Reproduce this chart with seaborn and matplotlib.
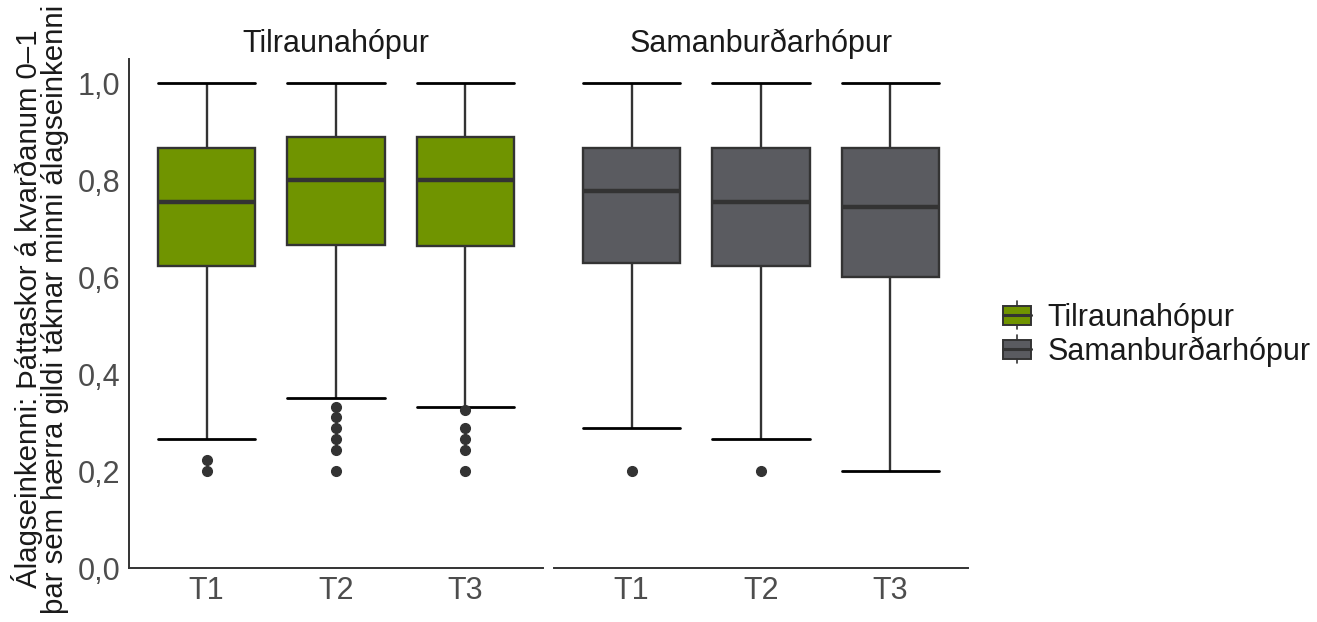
import numpy as np
import pandas as pd
import matplotlib
matplotlib.use("Agg")
import matplotlib.pyplot as plt
import seaborn as sns
from matplotlib.legend_handler import HandlerBase
from matplotlib.patches import Rectangle
from matplotlib.lines import Line2D
from matplotlib.ticker import FuncFormatter

# ---------------- data ----------------
groups = ["Tilraunahópur", "Samanburðarhópur"]
times = ["T1", "T2", "T3"]
group_colors = ["#709400", "#5A5B60"]

whisker_low = [[0.267, 0.350, 0.333], [0.289, 0.267, 0.200]]
q1 = [[0.622, 0.667, 0.665], [0.630, 0.622, 0.600]]
median = [[0.756, 0.800, 0.800], [0.778, 0.756, 0.744]]
q3 = [[0.867, 0.889, 0.889], [0.867, 0.867, 0.867]]
whisker_high = [[1.0, 1.0, 1.0], [1.0, 1.0, 1.0]]
outliers = [
    [[0.200, 0.222], [0.200, 0.244, 0.267, 0.289, 0.311, 0.333], [0.200, 0.244, 0.267, 0.289, 0.325]],
    [[0.200], [0.200], []],
]

y_label = "Álagseinkenni: Þáttaskor á kvarðanum 0–1\nþar sem hærra gildi táknar minni álagseinkenni"


def build_values(lo, a, m, b, hi, outs, m_idx=8):
    """Sorted sample of 4*m_idx+1 values whose quartiles/whiskers equal the given stats."""
    n = 4 * m_idx + 1
    vals = [None] * n
    k = len(outs)
    for i, o in enumerate(sorted(outs)):
        vals[i] = o
    vals[k] = lo
    for i in range(k + 1, m_idx + 1):
        vals[i] = a
    for i in range(m_idx + 1, 2 * m_idx + 1):
        vals[i] = m
    for i in range(2 * m_idx + 1, 4 * m_idx):
        vals[i] = b
    vals[4 * m_idx] = hi
    return vals


rows = []
for gi, g in enumerate(groups):
    for ti, t in enumerate(times):
        for v in build_values(whisker_low[gi][ti], q1[gi][ti], median[gi][ti],
                              q3[gi][ti], whisker_high[gi][ti], outliers[gi][ti]):
            rows.append({"group": g, "time": t, "value": v})
df = pd.DataFrame(rows)

# ---------------- style ----------------
sns.set_style("white")
plt.rcParams["font.family"] = ["Liberation Sans", "DejaVu Sans"]
FS = 22
TXT = "#1A1A1A"
TICK = "#4D4D4D"
LINE = "#333333"

W, H = 1317, 622
fig = plt.figure(figsize=(W / 100, H / 100), dpi=100)

bottom = (H - 568) / H
height = (568 - 59) / H
ax_left = fig.add_axes([129 / W, bottom, (543 - 129) / W, height])
ax_right = fig.add_axes([554 / W, bottom, (968 - 554) / W, height])

for gi, (ax, g) in enumerate(zip([ax_left, ax_right], groups)):
    sub = df[df["group"] == g]
    sns.boxplot(
        data=sub, x="time", y="value", order=times, ax=ax,
        color=group_colors[gi], saturation=1, width=0.75,
        linecolor=LINE, linewidth=1.7,
        flierprops=dict(marker="o", markerfacecolor=LINE, markeredgecolor=LINE, markersize=7),
        medianprops=dict(color=LINE, linewidth=3.2),
        capprops=dict(color="black", linewidth=2.0),
        capwidths=0.75,
    )
    ax.set_xlim(-0.6, 2.6)
    ax.set_ylim(0, 1.05)
    ax.set_xlabel("")
    ax.set_ylabel("")
    ax.set_title(g, fontsize=FS, color=TXT, pad=5)
    for s in ["top", "right"]:
        ax.spines[s].set_visible(False)
    ax.spines["bottom"].set_color(LINE)
    ax.spines["bottom"].set_linewidth(1.4)
    ax.tick_params(axis="x", length=4, width=1.2, color=LINE, labelsize=FS, labelcolor=TICK, pad=2)
    ax.tick_params(axis="y", length=4, width=1.2, color=LINE, labelsize=FS, labelcolor=TICK, pad=2)

ax_left.spines["left"].set_color(LINE)
ax_left.spines["left"].set_linewidth(1.4)
ax_left.set_yticks([0, 0.2, 0.4, 0.6, 0.8, 1.0])
ax_left.yaxis.set_major_formatter(FuncFormatter(lambda v, p: f"{v:.1f}".replace(".", ",")))

# y-axis title (two lines, rotated)
fig.text(40 / W, 1 - 309 / H, y_label, rotation=90, ha="center", va="center",
         multialignment="center", fontsize=21.2, color=TXT, linespacing=0.95)

ax_right.spines["left"].set_visible(False)
ax_right.set_yticks([])


# ---------------- legend ----------------
class BoxHandler(HandlerBase):
    def create_artists(self, legend, orig_handle, xdescent, ydescent, width, height, fontsize, trans):
        fc = orig_handle.get_facecolor()
        cx = -xdescent + width / 2
        bw = width
        bh = height * 0.85
        y0 = -ydescent + (height - bh) / 2
        rect = Rectangle((cx - bw / 2, y0), bw, bh, facecolor=fc, edgecolor=LINE, lw=1.4, transform=trans)
        med = Line2D([cx - bw / 2, cx + bw / 2], [y0 + bh / 2] * 2, color=LINE, lw=2.2, transform=trans)
        wt = Line2D([cx, cx], [y0 + bh, y0 + bh + height * 0.2], color=LINE, lw=1.2, transform=trans)
        wb = Line2D([cx, cx], [y0, y0 - height * 0.2], color=LINE, lw=1.2, transform=trans)
        return [rect, med, wt, wb]


handles = [Rectangle((0, 0), 1, 1, facecolor=c) for c in group_colors]
fig.legend(handles, groups, handler_map={Rectangle: BoxHandler()},
           loc="center left", bbox_to_anchor=(1003 / W, 1 - 335 / H),
           borderaxespad=0, borderpad=0,
           frameon=False, fontsize=FS, handlelength=0.9, handleheight=0.75,
           handletextpad=0.55, labelspacing=0.12, labelcolor=TXT)

fig.savefig("out.png", dpi=100)
